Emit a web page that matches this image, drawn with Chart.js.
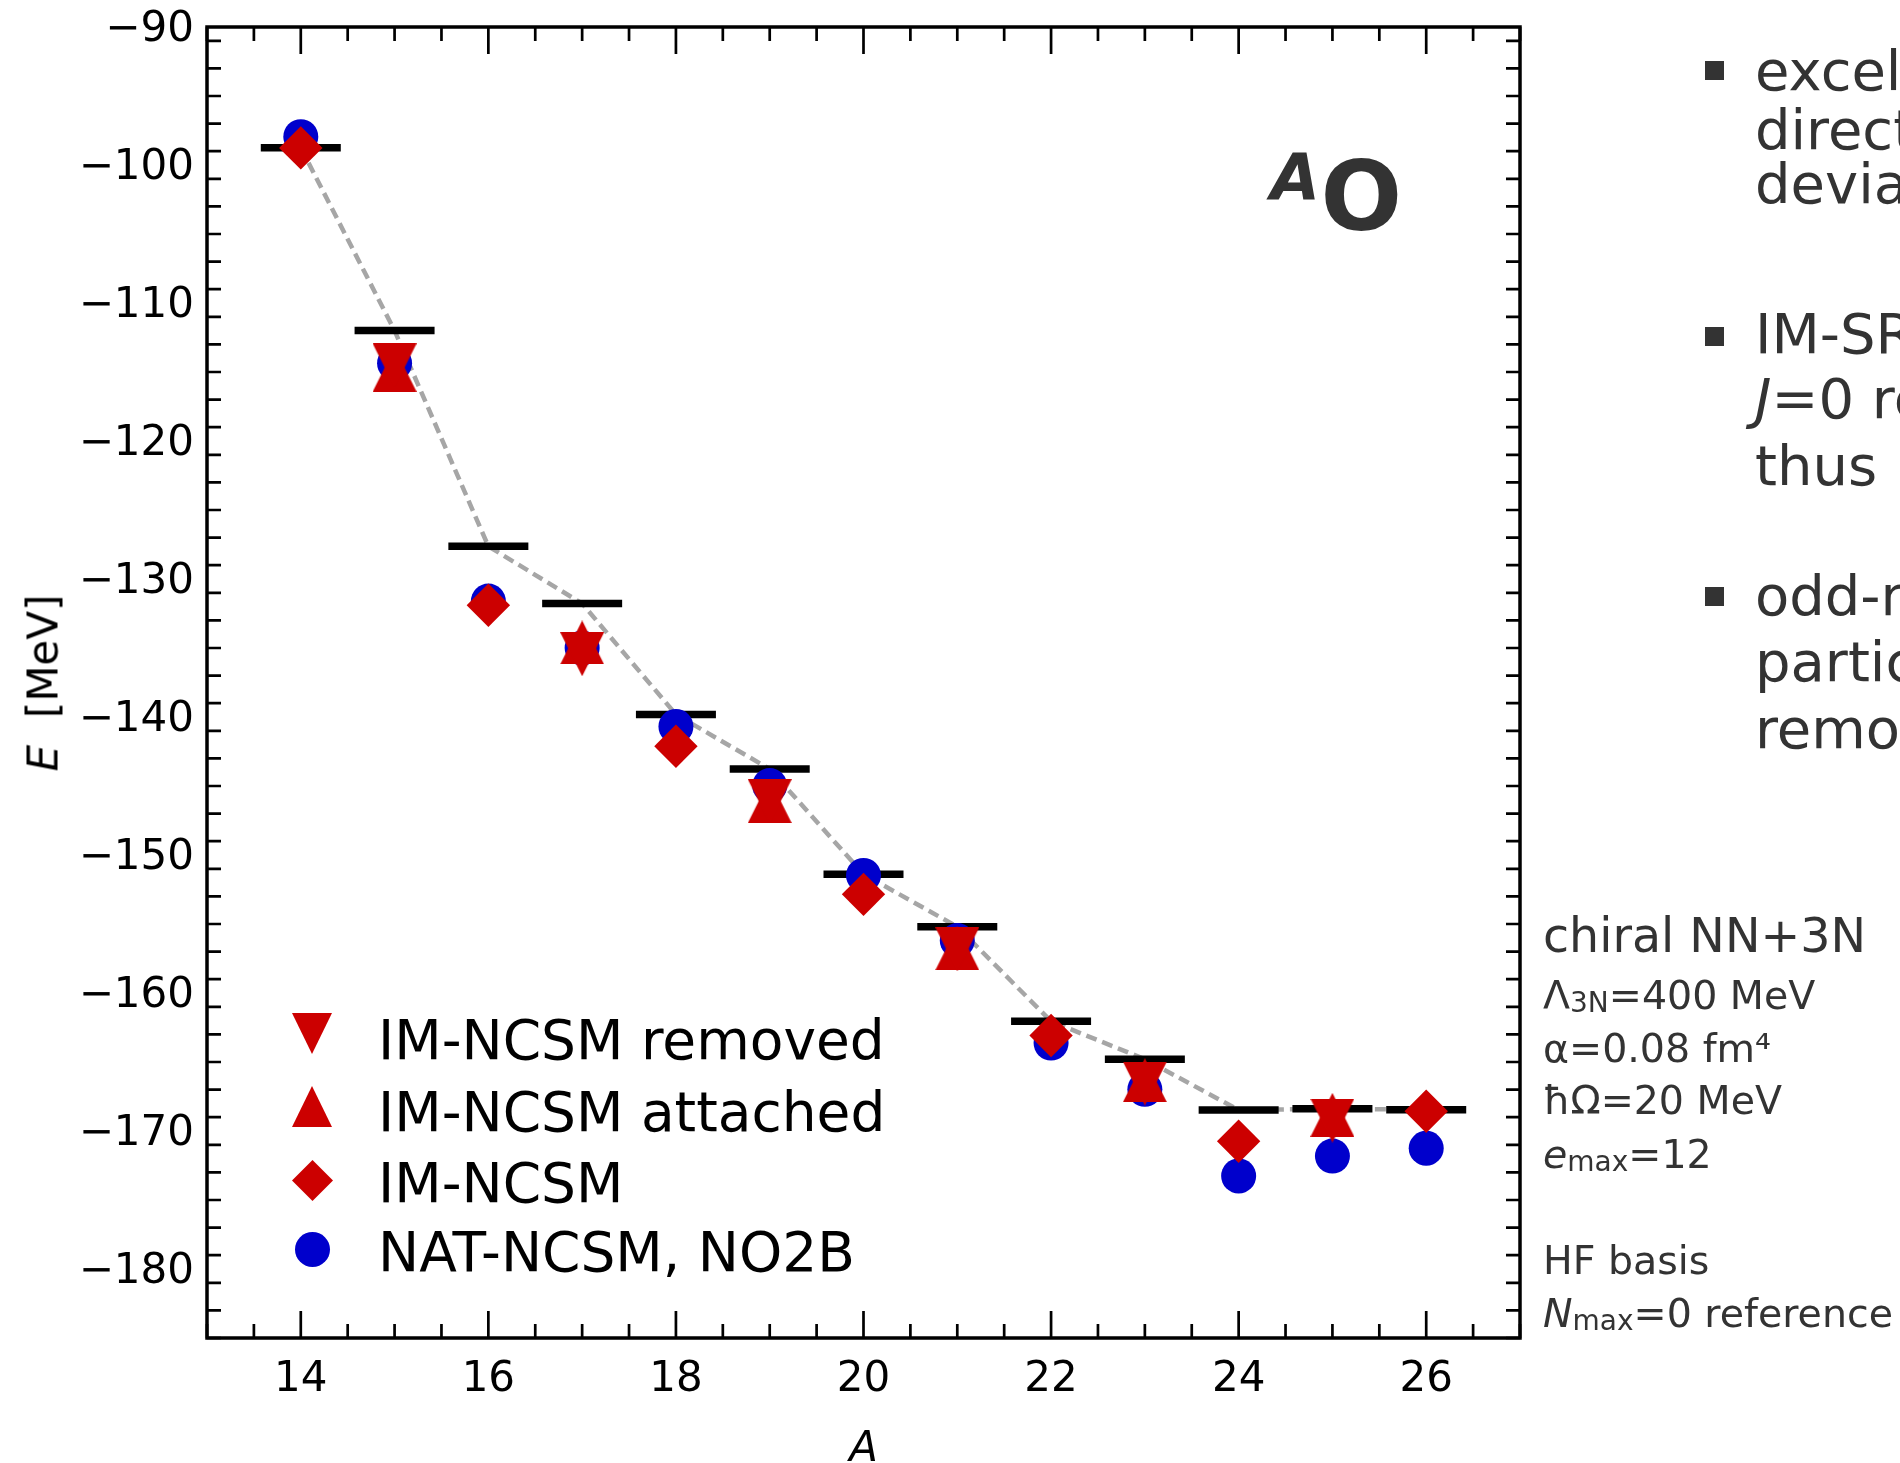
<!DOCTYPE html>
<html>
<head>
<meta charset="utf-8">
<script src="https://cdn.jsdelivr.net/npm/chart.js@4.4.1/dist/chart.umd.min.js"></script>
<style>
html,body{margin:0;padding:0;background:#fff;}
#wrap{position:relative;width:1900px;height:1463px;overflow:hidden;font-family:"DejaVu Sans",sans-serif;}
#c{position:absolute;left:0;top:0;}
.t{position:absolute;white-space:pre;line-height:normal;}
.leg{font-size:55px;color:#000;left:378px;}
.par{font-size:39.5px;color:#333;left:1543px;}
.sub{font-size:28px;vertical-align:-3px;}
.bl{position:absolute;left:1755px;font-size:56px;line-height:normal;color:#333;white-space:pre;}
.sq{position:absolute;left:1705px;width:19px;height:19px;background:#333;}
.mk{position:absolute;}
</style>
</head>
<body>
<div id="wrap">
<canvas id="c" width="1900" height="1463"></canvas>

<!-- nucleus label -->
<div class="t" style="left:1270.4px;top:141.2px;font-size:64px;font-weight:bold;font-style:italic;color:#333;">A</div>
<div class="t" style="left:1320.4px;top:141px;font-size:96px;font-weight:bold;color:#333;">O</div>

<!-- y axis title -->
<div class="t" style="left:42.5px;top:683px;font-size:42px;color:#000;transform:translate(-50%,-50%) rotate(-90deg);"><i>E</i>  [MeV]</div>

<!-- legend -->
<div class="mk" style="left:292px;top:1013px;width:0;height:0;border-left:20.5px solid transparent;border-right:20.5px solid transparent;border-top:41px solid #cc0000;"></div>
<div class="mk" style="left:292px;top:1086px;width:0;height:0;border-left:20.5px solid transparent;border-right:20.5px solid transparent;border-bottom:41px solid #cc0000;"></div>
<div class="mk" style="left:298.2px;top:1165.5px;width:29px;height:29px;background:#cc0000;transform:rotate(45deg);"></div>
<div class="mk" style="left:295.2px;top:1232px;width:35px;height:35px;border-radius:50%;background:#0000cc;"></div>
<div class="t leg" style="top:1008px;">IM-NCSM removed</div>
<div class="t leg" style="top:1080px;">IM-NCSM attached</div>
<div class="t leg" style="top:1151px;">IM-NCSM</div>
<div class="t leg" style="top:1220px;">NAT-NCSM, NO2B</div>

<!-- right side bullets -->
<div class="sq" style="top:61px;"></div>
<div class="sq" style="top:326.5px;"></div>
<div class="sq" style="top:587px;"></div>
<div class="bl" style="top:38px;">excellent</div>
<div class="bl" style="top:97px;">direct</div>
<div class="bl" style="top:151px;">deviations</div>
<div class="bl" style="top:301px;">IM-SRG</div>
<div class="bl" style="top:366px;"><i>J</i>=0 reference</div>
<div class="bl" style="top:433px;">thus</div>
<div class="bl" style="top:562.5px;">odd-mass</div>
<div class="bl" style="top:628.5px;">particle</div>
<div class="bl" style="top:696px;">removed</div>

<!-- parameters -->
<div class="t" style="left:1543px;top:907.6px;font-size:47.5px;color:#333;">chiral NN+3N</div>
<div class="t par" style="top:971.6px;">Λ<span class="sub">3N</span>=400 MeV</div>
<div class="t par" style="top:1025px;">α=0.08 fm⁴</div>
<div class="t par" style="top:1076.6px;">ħΩ=20 MeV</div>
<div class="t par" style="top:1130.6px;"><i>e</i><span class="sub">max</span>=12</div>
<div class="t par" style="top:1236.6px;">HF basis</div>
<div class="t par" style="top:1290px;"><i>N</i><span class="sub">max</span>=0 reference</div>
</div>

<script>
// ---------------- data ----------------
const massNumbers = [14, 15, 16, 17, 18, 19, 20, 21, 22, 23, 24, 25, 26];
const expEnergy   = [-98.75, -112.0, -127.63, -131.78, -139.82, -143.77, -151.39, -155.2, -162.05, -164.8, -168.48, -168.39, -168.46];
const natNcsm     = [-97.95, -114.37, -131.6, -135.0, -140.69, -144.97, -151.48, -156.2, -163.63, -166.98, -173.26, -171.82, -171.25];

const evenA       = [14, 16, 18, 20, 22, 24, 26];
const imNcsm      = [-98.76, -131.9, -142.12, -152.85, -163.08, -170.74, -168.57];

const oddA        = [15, 17, 19, 21, 23, 25];
const imRemoved   = [-114.52, -135.45, -146.1, -156.83, -166.56, -169.24];
const imAttached  = [-114.84, -134.6, -146.1, -156.76, -166.32, -168.83];

const xTickValues = [14, 16, 18, 20, 22, 24, 26];
const yTickValues = [-90, -100, -110, -120, -130, -140, -150, -160, -170, -180];
const xRange = [13, 27];
const yRange = [-185, -90];
const xMinorStep = 0.5;
const yMinorStep = 2;

// ---------------- helpers ----------------
const RED = '#cc0000', BLUE = '#0000cc';
function triCanvas(dir, size, color) {
  const c = document.createElement('canvas');
  c.width = size; c.height = size;
  const g = c.getContext('2d');
  g.fillStyle = color;
  g.beginPath();
  if (dir === 'down') { g.moveTo(0, 0); g.lineTo(size, 0); g.lineTo(size / 2, size); }
  else { g.moveTo(size / 2, 0); g.lineTo(size, size); g.lineTo(0, size); }
  g.closePath(); g.fill();
  return c;
}
const pts = (xs, ys) => xs.map((x, i) => ({x: x, y: ys[i]}));
const minus = v => String(v).replace('-', '\u2212');
const noPad = s => { s.paddingTop = 0; s.paddingBottom = 0; s.paddingLeft = 0; s.paddingRight = 0; };

const frameTicks = {
  id: 'frameTicks',
  afterDatasetsDraw(chart) {
    const {ctx, chartArea: a, scales: {x, y}} = chart;
    ctx.save();
    ctx.strokeStyle = '#000';
    ctx.lineWidth = 2.7;
    ctx.beginPath();
    const eps = 1e-6;
    for (let v = xRange[0]; v <= xRange[1] + eps; v += xMinorStep) {
      const px = x.getPixelForValue(v);
      const len = xTickValues.some(t => Math.abs(t - v) < eps) ? 27 : 14;
      ctx.moveTo(px, a.bottom); ctx.lineTo(px, a.bottom - len);
      ctx.moveTo(px, a.top); ctx.lineTo(px, a.top + len);
    }
    for (let v = yRange[0]; v <= yRange[1] + eps; v += yMinorStep) {
      const py = y.getPixelForValue(v);
      const len = yTickValues.some(t => Math.abs(t - v) < eps) ? 27 : 14;
      ctx.moveTo(a.left, py); ctx.lineTo(a.left + len, py);
      ctx.moveTo(a.right, py); ctx.lineTo(a.right - len, py);
    }
    ctx.stroke();
    ctx.lineWidth = 3.5;
    ctx.strokeRect(a.left, a.top, a.right - a.left, a.bottom - a.top);
    ctx.restore();
  }
};

Chart.defaults.font.family = '"DejaVu Sans", sans-serif';
Chart.defaults.color = '#000';

new Chart(document.getElementById('c'), {
  type: 'scatter',
  data: {
    datasets: [
      { label: 'IM-NCSM removed', data: pts(oddA, imRemoved), pointStyle: triCanvas('down', 44, RED), pointRadius: 22, order: 0 },
      { label: 'IM-NCSM attached', data: pts(oddA, imAttached), pointStyle: triCanvas('up', 44, RED), pointRadius: 22, order: 1 },
      { label: 'IM-NCSM', data: pts(evenA, imNcsm), pointStyle: 'rectRot', pointRadius: 21.7, backgroundColor: RED, borderWidth: 0, order: 2 },
      { label: 'NAT-NCSM, NO2B', data: pts(massNumbers, natNcsm), pointStyle: 'circle', pointRadius: 17.5, backgroundColor: BLUE, borderWidth: 0, order: 3 },
      { label: 'experiment', data: pts(massNumbers, expEnergy), pointStyle: 'line', pointRadius: 40, borderColor: '#000', borderWidth: 7.5, order: 4 },
      { label: 'exp line', data: pts(massNumbers, expEnergy), showLine: true, pointRadius: 0, borderColor: '#a6a6a6', borderWidth: 4.5, borderDash: [11, 6], order: 5 }
    ]
  },
  options: {
    responsive: false,
    animation: false,
    devicePixelRatio: 1,
    events: [],
    layout: { autoPadding: false, padding: { top: 27, right: 380, left: 0, bottom: 0 } },
    plugins: { legend: { display: false }, tooltip: { enabled: false } },
    scales: {
      x: {
        type: 'linear', min: xRange[0], max: xRange[1],
        grid: { display: false, drawTicks: false },
        border: { display: false },
        ticks: { font: { size: 42 }, color: '#000', padding: 17, autoSkip: false, maxRotation: 0, callback: v => minus(v) },
        afterBuildTicks: s => { s.ticks = xTickValues.map(v => ({value: v})); },
        afterFit: s => { s.height = 125; noPad(s); },
        title: { display: true, text: 'A', font: { size: 42, style: 'italic', lineHeight: 0.63 }, color: '#000', padding: { top: 0, bottom: 0 } }
      },
      y: {
        type: 'linear', min: yRange[0], max: yRange[1],
        grid: { display: false, drawTicks: false },
        border: { display: false },
        ticks: { font: { size: 42, lineHeight: '5.6px' }, color: '#000', padding: 13, autoSkip: false, callback: v => ['', minus(v)] },
        afterBuildTicks: s => { s.ticks = yTickValues.map(v => ({value: v})); },
        afterFit: s => { s.width = 207; noPad(s); }
      }
    }
  },
  plugins: [frameTicks]
});
</script>
</body>
</html>
